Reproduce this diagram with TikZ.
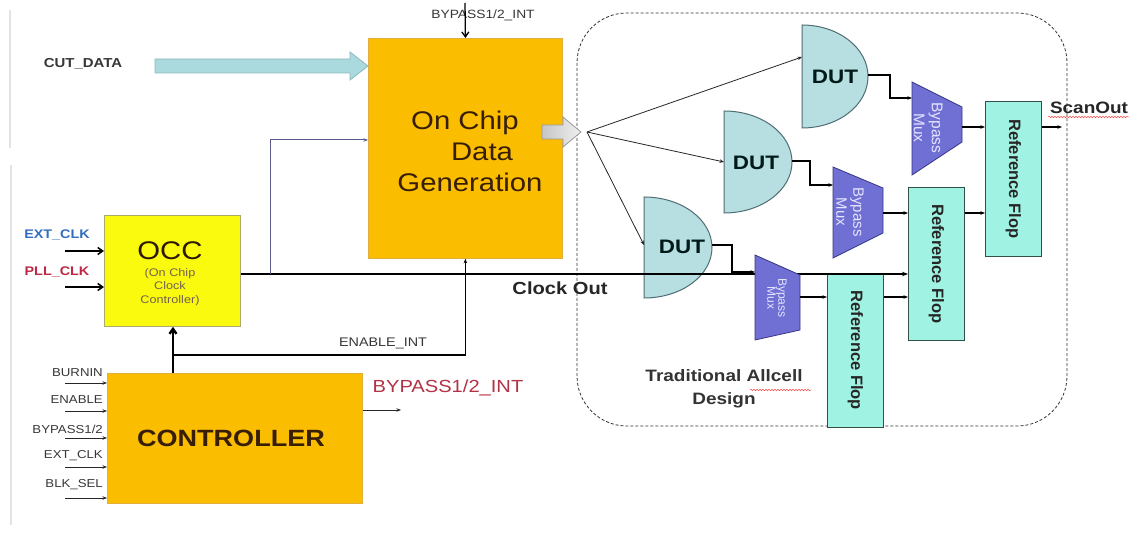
\documentclass[tikz,border=0pt]{standalone}
\usepackage{fontspec}
\setmainfont{Liberation Sans}[FakeStretch=1.15]
\newfontfamily\rotfont{Liberation Sans}
\usetikzlibrary{arrows.meta,decorations.pathmorphing,calc}
\definecolor{orng}{RGB}{251,189,0}
\definecolor{orngb}{RGB}{225,175,60}
\definecolor{occy}{RGB}{250,250,15}
\definecolor{occb}{RGB}{170,170,110}
\definecolor{dutf}{RGB}{183,222,224}
\definecolor{dutb}{RGB}{80,110,115}
\definecolor{muxf}{RGB}{112,112,212}
\definecolor{muxb}{RGB}{55,55,130}
\definecolor{muxt}{RGB}{228,228,255}
\definecolor{rff}{RGB}{160,242,226}
\definecolor{rfb}{RGB}{50,80,70}
\definecolor{cutf}{RGB}{170,218,222}
\definecolor{cutb}{RGB}{140,185,190}
\definecolor{brn}{RGB}{55,30,5}
\definecolor{lblue}{RGB}{50,110,190}
\definecolor{lred}{RGB}{190,40,70}
\definecolor{bred}{RGB}{180,50,70}
\definecolor{slate}{RGB}{90,90,140}
\definecolor{txtg}{RGB}{55,55,55}
\tikzset{
  box/.style={draw, inner sep=0pt, anchor=north west, line width=0.8pt},
  tipL/.style={-{Stealth[length=6pt,width=4.5pt]}},
  tips/.style={-{Stealth[length=4.5pt,width=3.5pt]}},
  barb/.style={-{Straight Barb[length=5pt,width=7pt]}},
  wire/.style={line width=1.8pt, black},
  thinw/.style={line width=0.8pt, black!85},
  lab/.style={inner sep=0pt},
  dutshape/.style={draw=dutb, fill=dutf, line width=1pt},
  muxshape/.style={draw=muxb, fill=muxf, line width=0.8pt},
  muxtext/.style={rotate=-90, align=center, text=muxt, inner sep=0pt},
  rftext/.style={rotate=-90, inner sep=0pt, text=black!85, font=\rotfont\bfseries\fontsize{16.5}{18}\selectfont},
  squig/.style={decorate, decoration={snake, amplitude=0.7pt, segment length=3pt}, draw=red!70, line width=0.5pt},
  ctrlin/.style={lab, anchor=east, text=txtg, font=\fontsize{11.5}{12}\selectfont},
}
\begin{document}
\begin{tikzpicture}[x=1pt,y=-1pt]
\fill[white] (0,0) rectangle (1137,534);
\useasboundingbox (0,0) rectangle (1137,534);
% faint left rule
\draw[gray!22, line width=1.2pt] (10,10) -- (10,148) (11,165) -- (11,525);

% dashed region
\draw[black!80, densely dashed, line width=0.8pt, rounded corners=50pt] (577,13) rectangle (1067,426);

% main boxes
\node[box, draw=orngb, fill=orng, minimum width=194pt, minimum height=220pt] (ocdg) at (368,38) {};
\node[box, draw=occb, fill=occy, minimum width=136pt, minimum height=111pt] (occ) at (104,215) {};
\node[box, draw=orngb, fill=orng, minimum width=255pt, minimum height=130pt] (ctrl) at (107,373) {};

% box texts
\node[lab, align=center, text=brn, font=\fontsize{25.5}{31}\selectfont] (ocdgt) at (470,151)
  {On Chip\hspace*{10pt}\\\hspace*{24pt}Data\\Generation};
\node[lab, text=brn!80!black, font=\fontsize{25.5}{30}\selectfont] (occt) at (170,251) {OCC};
\node[lab, align=center, text=brn!70, font=\fontsize{11}{13.5}\selectfont] (occs) at (170,287)
  {(On Chip\\Clock\\Controller)};
\node[lab, text=brn, font=\bfseries\fontsize{23.5}{28}\selectfont] (ctrlt) at (231,438) {CONTROLLER};

% labels
\node[lab, text=txtg, font=\bfseries\fontsize{13}{15}\selectfont] (cutl) at (83,64) {CUT\_DATA};
\node[lab, text=txtg, font=\fontsize{12}{14}\selectfont] (bptl) at (483,15) {BYPASS1/2\_INT};
\node[lab, text=lblue, font=\bfseries\fontsize{12.5}{14}\selectfont] (extl) at (57,235) {EXT\_CLK};
\node[lab, text=lred, font=\bfseries\fontsize{12.5}{14}\selectfont] (plll) at (57,272) {PLL\_CLK};
\node[lab, text=txtg, font=\fontsize{12.5}{14}\selectfont] (enl) at (383,343) {ENABLE\_INT};
\node[lab, text=bred, font=\fontsize{17.5}{20}\selectfont] (bpol) at (448,388) {BYPASS1/2\_INT};
\node[lab, text=black!85, font=\bfseries\fontsize{17.5}{20}\selectfont] (clkl) at (560,288) {Clock Out};
\node[lab, align=center, text=black!80, font=\bfseries\fontsize{16.5}{23}\selectfont] (tradl) at (724,389)
  {Traditional Allcell\\Design};
\node[lab, text=black!85, font=\bfseries\fontsize{16.5}{18}\selectfont] (scanl) at (1089,108) {ScanOut};
\draw[squig] (1048,117) -- (1129,117);
\draw[squig] (750,390) -- (811,390);

% controller inputs
\foreach \t/\ty/\ay [count=\i] in {{BURNIN}/373/383, {ENABLE}/400/411, {BYPASS1/2}/429/438, {EXT\_CLK}/456/467, {BLK\_SEL}/485/498}{
  \node[ctrlin] (ci\i) at (103,\ty) {\t};
  \coordinate (cs\i) at (65,\ay);
  \draw[thinw, tips] (cs\i) -- (cs\i -| ctrl.west);
}

% OCC inputs
\coordinate (extsrc) at (65,251);
\coordinate (pllsrc) at (65,287);
\draw[line width=1.5pt, barb] (extsrc) -- (extsrc -| occ.west);
\draw[line width=1.5pt, barb] (pllsrc) -- (pllsrc -| occ.west);

% CUT_DATA block arrow
\coordinate (cuttip) at (ocdg.west |- 0,66);
\draw[draw=cutb, fill=cutf, line width=0.8pt]
  (155,59) -- (350,59) -- (350,52) -- (cuttip) -- (350,80) -- (350,73) -- (155,73) -- cycle;

% top BYPASS arrow
\coordinate (bptop) at (465,3);
\draw[line width=1.3pt, barb] (bptop) -- (ocdg.north);

% DUT shapes
\draw[dutshape] (802,128) arc[start angle=-90, end angle=90, x radius=66pt, y radius=51.5pt] -- cycle;
\draw[dutshape] (724,213) arc[start angle=-90, end angle=90, x radius=68pt, y radius=51pt] -- cycle;
\draw[dutshape] (644,298) arc[start angle=-90, end angle=90, x radius=68pt, y radius=50.5pt] -- cycle;
\node[lab, text=black!80!teal, font=\bfseries\fontsize{19.5}{22}\selectfont] (d1) at (835,77) {DUT};
\node[lab, text=black!80!teal, font=\bfseries\fontsize{19.5}{22}\selectfont] (d2) at (756,163) {DUT};
\node[lab, text=black!80!teal, font=\bfseries\fontsize{19.5}{22}\selectfont] (d3) at (682,247) {DUT};
\coordinate (d1in) at (802,57);  \coordinate (d1out) at (868,75);
\coordinate (d2in) at (724,162); \coordinate (d2out) at (792,161);
\coordinate (d3in) at (644,245); \coordinate (d3out) at (712,245);

% grey block arrow and fan-out
\coordinate (gtip) at (581,132);
\path[draw=gray!80, left color=gray!45, right color=gray!12, line width=0.8pt]
  (542,125) -- (563,125) -- (563,117) -- (gtip) -- (563,147) -- (563,139) -- (542,139) -- cycle;
\coordinate (fan) at (587,132);
\draw[thinw, tips] (fan) -- (d1in);
\draw[thinw, tips] (fan) -- (d2in);
\draw[thinw, tips] (fan) -- (d3in);

% reference flops
\node[box, draw=rfb, fill=rff, minimum width=56pt, minimum height=155pt] (rf1) at (985,101) {};
\node[box, draw=rfb, fill=rff, minimum width=56pt, minimum height=153pt] (rf2) at (908,187) {};
\node[box, draw=rfb, fill=rff, minimum width=56pt, minimum height=154pt] (rf3) at (827,273) {};
\node[rftext] (rf1t) at (rf1.center) {Reference Flop};
\node[rftext] (rf2t) at (rf2.center) {Reference Flop};
\node[rftext] (rf3t) at (rf3.center) {Reference Flop};

% clock line and branch
\coordinate (clky) at (0,274);
\coordinate (br) at (270,274);
\draw[wire, tipL] (occ.east |- clky) -- (rf2.west |- clky);
\coordinate (bry) at (0,140);
\draw[slate, line width=1pt, tips] (br) |- (ocdg.west |- bry);

% controller to OCC, enable
\coordinate (cup) at (173,373);
\coordinate (en) at (173,355);
\draw[line width=2.4pt, barb] (cup) -- (cup |- occ.south);
\draw[wire, tips] (en) -| (ocdg.south);
\coordinate (cout) at (401,410);
\draw[thinw, tips] (ctrl.east |- cout) -- (cout);

% bypass muxes
\draw[muxshape] (912,82) -- (962,107) -- (962,142) -- (912,175) -- cycle;
\draw[muxshape] (833,167) -- (883,188) -- (883,233) -- (833,258) -- cycle;
\draw[muxshape] (755,255) -- (800,275) -- (800,330) -- (755,340) -- cycle;
\node[muxtext, font=\rotfont\fontsize{15.5}{18}\selectfont] (m1t) at (928,128) {Bypass\\Mux};
\node[muxtext, font=\rotfont\fontsize{15}{17}\selectfont] (m2t) at (850,212) {Bypass\\Mux};
\node[muxtext, font=\rotfont\fontsize{12}{11}\selectfont] (m3t) at (777,298) {Bypass\\Mux};
\coordinate (m1in) at (912,98);  \coordinate (m1out) at (962,127);
\coordinate (m2in) at (833,185); \coordinate (m2out) at (883,213);
\coordinate (m3in) at (755,272); \coordinate (m3out) at (800,297);

% DUT outputs to muxes
\draw[wire, tips] (d1out) -- ++(22,0) |- (m1in);
\draw[wire, tips] (d2out) -- ++(18,0) |- (m2in);
\draw[wire, tips] (d3out) -- ++(20,0) |- (m3in);

% mux / flop chain
\draw[wire, tips] (m1out) -- (rf1.west |- m1out);
\draw[wire, tips] (m2out) -- (rf2.west |- m2out);
\draw[wire, tips] (m3out) -- (rf3.west |- m3out);
\draw[wire, tips] (rf3.east |- m3out) -- (rf2.west |- m3out);
\draw[wire, tips] (rf2.east |- m2out) -- (rf1.west |- m2out);
\coordinate (scan) at (1062,127);
\draw[wire, tips] (rf1.east |- scan) -- (scan);
\end{tikzpicture}
\end{document}
